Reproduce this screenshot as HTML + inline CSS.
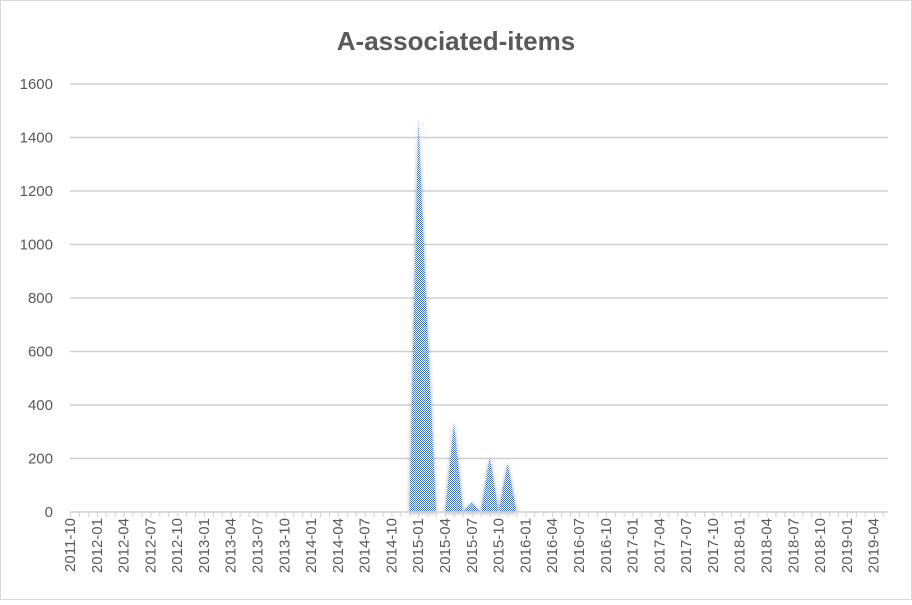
<!DOCTYPE html>
<html><head><meta charset="utf-8"><style>
body{margin:0;background:#fff;font-family:"Liberation Sans",sans-serif}
</style></head><body>
<svg id="c" width="912" height="600" xmlns="http://www.w3.org/2000/svg" font-family="Liberation Sans, sans-serif">
<defs>
<pattern id="chk" width="2" height="2" patternUnits="userSpaceOnUse">
<rect width="2" height="2" fill="#fff"/><rect width="1" height="1" fill="#4472c4"/><rect x="1" y="1" width="1" height="1" fill="#4472c4"/>
</pattern>
<filter id="sh" x="-20%" y="-5%" width="140%" height="110%"><feGaussianBlur in="SourceAlpha" stdDeviation="2"/><feOffset dx="0" dy="1"/><feComponentTransfer><feFuncA type="linear" slope="0.35"/></feComponentTransfer><feMerge><feMergeNode/><feMergeNode in="SourceGraphic"/></feMerge></filter>
</defs>
<rect x="0.5" y="0.5" width="911" height="599" fill="#fff" stroke="#d9d9d9"/>
<text x="456" y="50" text-anchor="middle" font-size="26" font-weight="bold" fill="#595959">A-associated-items</text>
<g id="grid"></g><g id="area"></g><g id="axes"></g>
</svg>
<script>
const yTicks=[0,200,400,600,800,1000,1200,1400,1600];
const startYear=2011, startMonth=10, nMonths=91;
const peakIndex=[39,40,43,45,47,49];
const peakValues=[1470,700,337,38,207,184];
const ns="http://www.w3.org/2000/svg";
const x0=70,w=8.93,y0=512,yPer=(512-84)/1600;
const X=i=>x0+i*w, Y=v=>y0-v*yPer;
function mk(t,a,p){const e=document.createElementNS(ns,t);for(const k in a)e.setAttribute(k,a[k]);p.appendChild(e);return e;}
const grid=document.getElementById('grid'),axes=document.getElementById('axes'),area=document.getElementById('area');
yTicks.forEach(v=>{
 if(v>0){const l=mk('line',{x1:x0,x2:888,y1:Y(v),y2:Y(v),stroke:'#d0d0d0','stroke-width':1.5},grid);
 
 }
 const t=mk('text',{x:53,y:Y(v)+5,'text-anchor':'end','font-size':15,fill:'#595959'},axes);t.textContent=v;
 
 
});
const vals=new Array(nMonths).fill(0);peakIndex.forEach((k,j)=>vals[k]=peakValues[j]);
let d='M'+X(0)+','+Y(0);vals.forEach((v,i)=>d+=' L'+X(i)+','+Y(v));d+=' L'+X(nMonths-1)+','+Y(0)+' Z';
const p=mk('path',{d:d,fill:'url(#chk)',filter:'url(#sh)'},area);


const ax=mk('line',{x1:x0,x2:888,y1:y0,y2:y0,stroke:'#d0d0d0','stroke-width':1.5},axes);


for(let i=0;i<=nMonths;i++){const tk=mk('line',{x1:X(i)+0.5,x2:X(i)+0.5,y1:y0,y2:y0+5,stroke:'#d0d0d0'},axes);
 
 }
for(let i=0;i<nMonths;i+=3){
 const m=(startMonth-1+i)%12+1, yr=startYear+Math.floor((startMonth-1+i)/12);
 const lab=yr+'-'+String(m).padStart(2,'0');
 const x=X(i)+1,y=518;
 const t=mk('text',{x:x,y:y,transform:'rotate(-90 '+x+' '+y+')','text-anchor':'end','font-size':15,fill:'#595959','dominant-baseline':'middle'},axes);
 t.textContent=lab;
 
 
}
</script>
</body></html>
